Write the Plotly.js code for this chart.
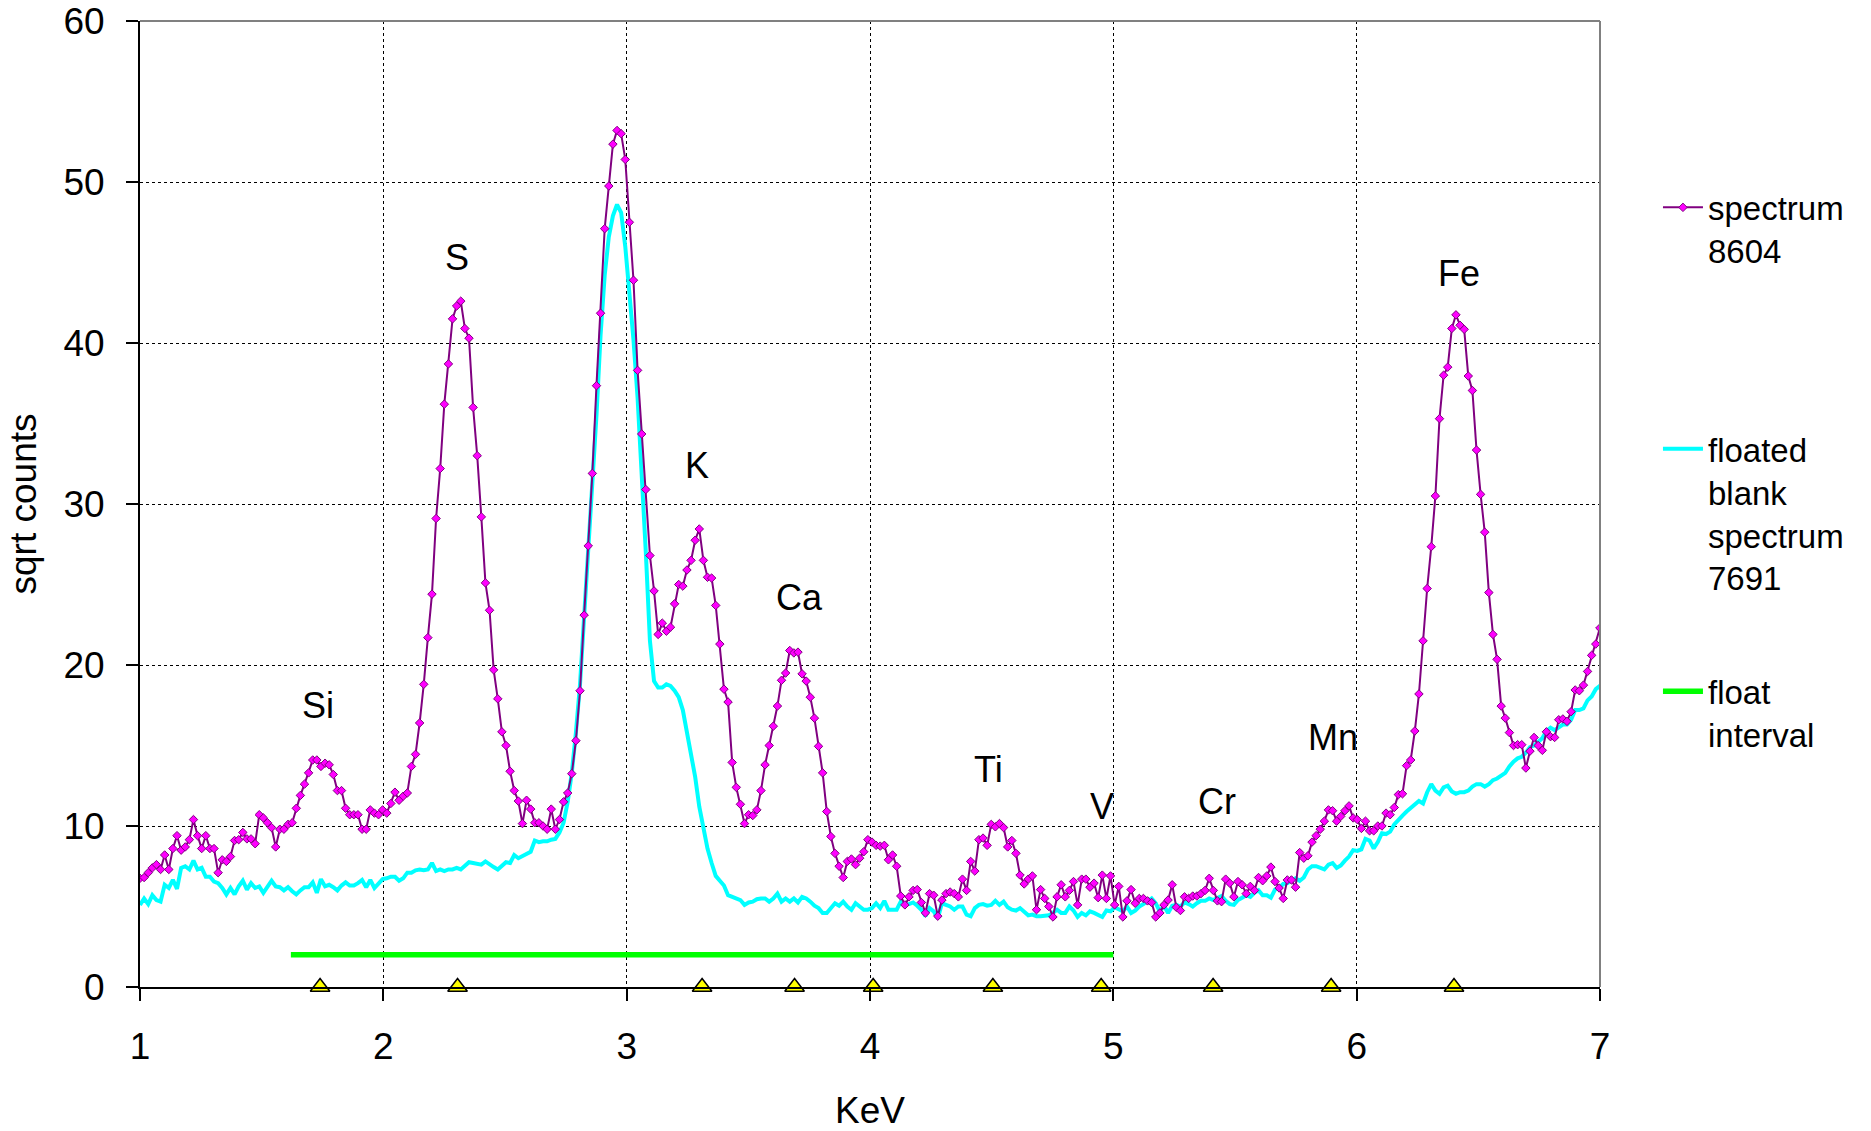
<!DOCTYPE html>
<html>
<head>
<meta charset="utf-8">
<script src="https://cdn.plot.ly/plotly-3.0.1.min.js"></script>
<style>
html, body { margin: 0; padding: 0; background: #ffffff; }
#chart { width: 1871px; height: 1131px; }
</style>
</head>
<body>
<div id="chart"></div>
<script>
// ---- data ----
const energyStart = 1.0;      // keV of first channel shown
const channelWidth = 0.0169;  // keV per channel

const spectrum8604 = [
6.75,6.8,7.1,7.4,7.6,7.3,8.2,7.3,8.6,9.4,
8.5,8.7,9.15,10.4,9.4,8.6,9.4,8.6,8.6,7.1,
7.9,7.8,8.1,9.1,9.15,9.6,9.2,9.2,8.9,10.7,
10.5,10.2,9.9,8.7,9.8,9.8,10.1,10.2,11.1,11.9,
12.6,13.3,14.1,14.1,13.7,13.9,13.8,13.2,12.2,12.2,
11.1,10.7,10.7,10.7,9.8,9.8,11.0,10.8,10.7,11.0,
10.8,11.4,12.1,11.6,11.85,12.05,13.7,14.45,16.4,18.8,
21.7,24.4,29.1,32.2,36.2,38.7,41.5,42.3,42.6,40.9,
40.3,36.0,33.0,29.2,25.1,23.4,19.7,17.9,15.85,15.0,
13.4,12.2,11.55,10.15,11.6,11.05,10.2,10.2,10.0,9.8,
11.05,9.8,10.4,11.5,12.05,13.25,15.3,18.4,23.1,27.4,
31.9,37.35,41.85,47.1,49.75,52.35,53.2,53.0,51.4,47.5,
43.9,38.3,34.35,30.9,26.8,24.6,21.9,22.6,22.1,22.35,
23.8,25.0,24.9,25.9,26.5,27.75,28.45,26.5,25.45,25.4,
23.7,21.3,18.5,17.7,13.95,12.4,11.35,10.15,10.7,10.65,
11.0,12.2,13.8,15.0,16.2,17.45,19.05,19.5,20.9,20.75,
20.8,19.45,19.0,18.0,16.7,14.95,13.3,10.9,9.35,8.3,
7.5,6.8,7.8,7.95,7.6,8.0,8.4,9.15,9.0,8.8,
8.75,8.8,7.9,8.2,7.5,5.65,5.1,5.6,6.0,6.05,
5.25,4.6,5.8,5.7,4.4,5.4,5.8,5.9,5.8,5.6,
6.7,6.0,7.8,7.2,9.15,9.25,8.8,10.1,9.95,10.15,
9.9,8.7,9.1,8.3,6.95,6.4,6.7,6.9,4.8,6.05,
5.5,5.0,4.35,5.6,6.35,5.6,6.0,6.55,5.1,6.7,
6.7,6.2,6.45,5.55,6.95,5.5,6.9,5.1,6.25,4.35,
5.35,6.05,5.2,5.5,5.5,5.35,5.25,4.35,4.6,5.1,
5.4,6.35,4.95,4.75,5.6,5.5,5.65,5.65,5.8,6.0,
6.75,6.0,5.35,5.3,6.7,6.45,5.6,6.55,6.35,5.8,
6.25,6.0,6.8,6.6,6.9,7.45,6.55,6.15,5.5,6.65,
6.65,6.2,8.35,8.0,8.15,9.0,9.4,9.8,10.3,11.0,
10.95,10.3,10.6,10.95,11.25,10.5,10.4,9.85,10.3,9.7,
9.7,10.0,10.0,10.8,10.7,11.15,11.95,12.0,13.75,14.1,
15.9,18.2,21.5,24.75,27.35,30.5,35.3,38.0,38.5,40.9,
41.75,41.1,40.85,37.95,37.05,33.35,30.6,28.25,24.5,21.9,
20.35,17.45,16.7,15.8,15.0,15.05,15.05,13.6,14.65,15.5,
15.0,14.7,15.85,15.55,15.5,16.6,16.65,16.5,17.1,18.45,
18.4,18.75,19.6,20.6,21.3,22.3,23.6
];

const blank7691 = [
5.1,5.5,5.15,5.7,5.4,5.3,6.35,6.15,6.65,6.1,
7.4,7.5,7.3,7.85,7.3,7.4,6.85,6.85,6.55,6.45,
6.15,5.75,6.15,5.75,6.25,6.6,6.05,6.45,6.15,6.25,
5.85,6.2,6.6,6.25,6.2,6.0,6.2,5.95,5.75,6.0,
6.2,6.2,6.5,5.85,6.7,6.25,6.35,6.2,6.0,6.3,
6.5,6.3,6.3,6.45,6.65,6.2,6.65,6.15,6.45,6.7,
6.75,6.85,6.85,6.6,6.75,7.1,7.1,7.25,7.3,7.25,
7.3,7.7,7.2,7.3,7.2,7.3,7.3,7.4,7.3,7.55,
7.75,7.7,7.65,7.6,7.8,7.6,7.45,7.3,7.5,7.75,
7.7,8.2,8.0,8.15,8.3,8.4,9.1,9.0,9.05,9.05,
9.15,9.2,9.6,10.2,11.5,13.3,15.8,18.8,23.0,27.0,
31.2,35.5,40.5,44.2,46.6,47.9,48.6,48.1,46.0,43.4,
40.2,36.6,32.0,27.0,21.5,19.0,18.6,18.6,18.8,18.7,
18.4,18.0,17.2,15.9,14.5,13.05,11.2,9.8,8.6,7.7,
6.9,6.6,6.3,5.7,5.6,5.5,5.4,5.1,5.25,5.3,
5.45,5.5,5.5,5.3,5.5,5.8,5.3,5.5,5.3,5.5,
5.25,5.6,5.5,5.3,5.05,4.9,4.6,4.6,4.9,5.2,
5.05,5.3,5.0,4.8,5.2,5.0,4.8,4.8,4.9,5.2,
4.9,5.35,4.8,4.8,4.8,5.3,5.1,5.15,5.25,5.05,
4.8,4.4,4.9,4.7,4.25,5.2,5.1,5.0,4.8,5.0,
5.0,4.5,4.4,4.9,5.1,5.15,5.05,5.1,5.35,5.1,
5.3,4.95,4.8,4.75,4.9,4.7,4.45,4.5,4.4,4.4,
4.45,4.45,4.6,4.8,4.6,4.6,5.0,4.75,4.35,4.6,
4.45,4.7,4.6,4.45,4.35,4.75,4.7,4.95,4.8,4.7,
5.0,4.6,4.75,5.0,5.15,5.35,5.5,5.2,4.7,5.05,
4.6,5.05,5.1,5.0,5.25,5.15,5.0,5.2,5.35,5.35,
5.5,5.4,5.55,5.65,5.35,5.15,5.1,5.4,5.55,5.7,
5.6,5.85,6.0,5.7,5.7,5.55,6.05,6.15,6.4,6.45,
6.6,6.75,6.6,6.8,7.3,7.5,7.5,7.4,7.3,7.6,
7.7,7.4,7.55,7.85,8.1,8.5,8.45,8.55,9.2,9.1,
8.6,9.0,9.55,9.5,9.65,10.1,10.4,10.65,10.9,11.1,
11.3,11.55,11.4,12.1,12.6,12.2,12.0,12.4,12.5,12.15,
12.0,12.1,12.1,12.2,12.45,12.6,12.6,12.45,12.6,12.85,
12.95,13.1,13.3,13.7,14.0,14.2,14.3,14.55,14.9,15.0,
15.2,15.45,15.9,16.1,15.95,16.1,16.3,16.3,16.6,17.2,
17.2,17.3,17.8,18.05,18.5,18.7,18.9
];

const floatIntervalX = [1.62, 5.0];
const floatIntervalY = [2, 2];

const lineEnergies = [1.74, 2.305, 3.31, 3.69, 4.013, 4.505, 4.95, 5.41, 5.895, 6.40];
const lineMarkerY  = [0, 0, 0, 0, 0, 0, 0, 0, 0, 0];

const elementNames = ['Si', 'S', 'K', 'Ca', 'Ti', 'V', 'Cr', 'Mn', 'Fe'];
const labelX = [1.730, 2.303, 3.289, 3.712, 4.485, 4.953, 5.426, 5.903, 6.421];
const labelY = [17.5, 45.3, 32.4, 24.2, 13.5, 11.2, 11.55, 15.5, 44.3];

const xTicks = [1, 2, 3, 4, 5, 6, 7];
const yTicks = [0, 10, 20, 30, 40, 50, 60];

// ---- chart ----
const FONT = 'Liberation Sans, Arial, Helvetica, sans-serif';

const traces = [
  {
    type: 'scatter', mode: 'lines',
    name: 'floated<br>blank<br>spectrum<br>7691',
    x0: energyStart, dx: channelWidth, y: blank7691,
    line: { color: '#00FFFF', width: 4 },
    legend: 'legend2'
  },
  {
    type: 'scatter', mode: 'lines+markers',
    name: 'spectrum<br>8604',
    x0: energyStart, dx: channelWidth, y: spectrum8604,
    line: { color: '#800080', width: 2 },
    marker: { symbol: 'diamond', size: 6.5, color: '#FF00FF', line: { color: '#800080', width: 1 } },
    legend: 'legend'
  },
  {
    type: 'scatter', mode: 'lines',
    name: 'float<br>interval',
    x: floatIntervalX, y: floatIntervalY,
    line: { color: '#00FF00', width: 5.5 },
    legend: 'legend3'
  },
  {
    type: 'scatter', mode: 'markers',
    x: lineEnergies, y: lineMarkerY,
    marker: { symbol: 'triangle-up', size: 17, color: '#FFFF00', line: { color: '#000000', width: 1.5 } },
    cliponaxis: false,
    showlegend: false, hoverinfo: 'skip'
  }
];

const annotations = elementNames.map((n, i) => ({
  x: labelX[i], y: labelY[i], xref: 'x', yref: 'y',
  text: n, showarrow: false, xanchor: 'center', yanchor: 'middle',
  font: { family: FONT, size: 36, color: '#000000' }
}));

const legendBase = {
  xanchor: 'left', yanchor: 'top',
  bgcolor: 'rgba(0,0,0,0)', borderwidth: 0,
  font: { family: FONT, size: 33, color: '#000000' },
  valign: 'top', itemwidth: 40
};

const layout = {
  width: 1871, height: 1131,
  margin: { l: 140, r: 271, t: 21, b: 144, pad: 0 },
  paper_bgcolor: '#ffffff', plot_bgcolor: '#ffffff',
  font: { family: FONT, size: 37, color: '#000000' },
  showlegend: true,
  xaxis: {
    range: [1, 7], tickvals: xTicks, ticktext: xTicks.map(String),
    ticks: 'outside', ticklen: 12, tickwidth: 2, tickcolor: '#000000',
    showline: true, linecolor: '#000000', linewidth: 2,
    showgrid: true, gridcolor: '#000000', gridwidth: 1, griddash: 'dot',
    zeroline: false, automargin: false,
    tickfont: { family: FONT, size: 37, color: '#000000' },
    ticklabelstandoff: 14,
    title: { text: 'KeV', font: { family: FONT, size: 37, color: '#000000' }, standoff: 36 }
  },
  yaxis: {
    range: [0, 60], tickvals: yTicks, ticktext: yTicks.map(String),
    ticks: 'outside', ticklen: 12, tickwidth: 2, tickcolor: '#000000',
    showline: true, linecolor: '#000000', linewidth: 2,
    showgrid: true, gridcolor: '#000000', gridwidth: 1, griddash: 'dot',
    zeroline: false, automargin: false,
    tickfont: { family: FONT, size: 37, color: '#000000' },
    ticklabelstandoff: 14,
    title: { text: 'sqrt counts', font: { family: FONT, size: 37, color: '#000000' }, standoff: 15 }
  },
  legend:  Object.assign({}, legendBase, { x: 1.0397, y: 0.836 }),
  legend2: Object.assign({}, legendBase, { x: 1.0397, y: 0.586 }),
  legend3: Object.assign({}, legendBase, { x: 1.0397, y: 0.335 }),
  shapes: [
    { type: 'line', xref: 'paper', yref: 'paper', x0: 0, x1: 1, y0: 1, y1: 1,
      line: { color: '#808080', width: 2 }, layer: 'above' },
    { type: 'line', xref: 'paper', yref: 'paper', x0: 1, x1: 1, y0: 0, y1: 1,
      line: { color: '#808080', width: 2 }, layer: 'above' }
  ],
  annotations: annotations
};

Plotly.newPlot('chart', traces, layout, { displayModeBar: false, responsive: false });
</script>
</body>
</html>
